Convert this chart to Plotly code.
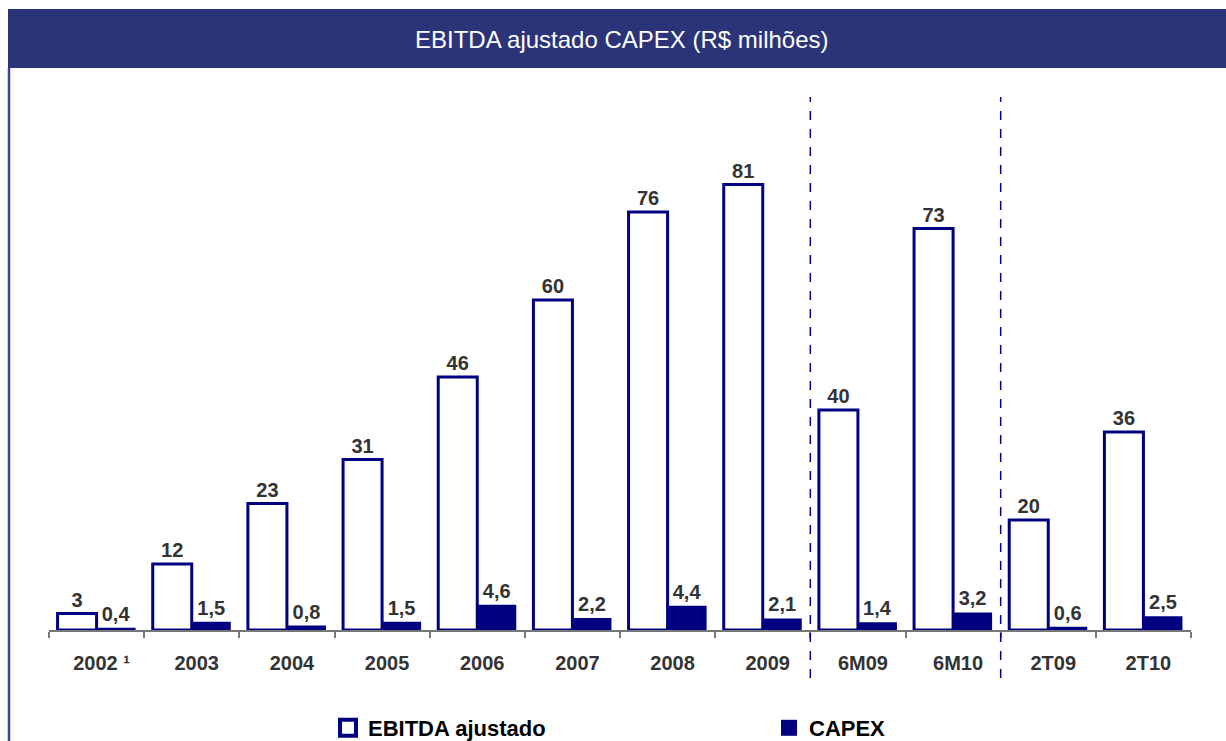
import plotly.graph_objects as go

categories = ["2002 ¹", "2003", "2004", "2005", "2006", "2007", "2008", "2009",
              "6M09", "6M10", "2T09", "2T10"]
ebitda = [3, 12, 23, 31, 46, 60, 76, 81, 40, 73, 20, 36]
capex = [0.4, 1.5, 0.8, 1.5, 4.6, 2.2, 4.4, 2.1, 1.4, 3.2, 0.6, 2.5]
separators_after = [7, 9]  # dashed line after these category indexes

NAVY = "#000080"
BANNER = "#2B3479"
FONT = "Arial, Liberation Sans, sans-serif"

W, H = 1226, 741
L, R, T, B = 49, 1191, 80, 630


def px_x(p):
    return (p - L) / (R - L)


def px_y(p):
    return (B - p) / (B - T)


fig = go.Figure()
fig.add_trace(go.Bar(
    x=categories, y=ebitda, name="EBITDA ajustado",
    marker=dict(color="white", line=dict(color=NAVY, width=3)),
    text=[f"{v:d}" for v in ebitda], textposition="outside",
    textfont=dict(family=FONT, size=20, color="#333333", weight="bold"),
    cliponaxis=False, showlegend=False,
))
fig.add_trace(go.Bar(
    x=categories, y=capex, name="CAPEX",
    marker=dict(color=NAVY, line=dict(color=NAVY, width=0)),
    text=[f"{v:.1f}".replace(".", ",") for v in capex], textposition="outside",
    textfont=dict(family=FONT, size=20, color="#333333", weight="bold"),
    cliponaxis=False, showlegend=False,
))
# legend entries
fig.add_trace(go.Scatter(
    x=[None], y=[None], mode="markers", name="EBITDA ajustado",
    marker=dict(symbol="square", size=16, color="white",
                line=dict(color=NAVY, width=4)),
    legend="legend", showlegend=True,
))
fig.add_trace(go.Scatter(
    x=[None], y=[None], mode="markers", name="CAPEX",
    marker=dict(symbol="square", size=16, color=NAVY,
                line=dict(color=NAVY, width=0)),
    legend="legend2", showlegend=True,
))

shapes = [
    # banner
    dict(type="rect", xref="paper", yref="paper",
         x0=px_x(8), x1=px_x(1240), y0=px_y(68), y1=px_y(9),
         fillcolor=BANNER, line=dict(width=0), layer="below"),
    # left border line
    dict(type="line", xref="paper", yref="paper",
         x0=px_x(9), x1=px_x(9), y0=px_y(68), y1=px_y(745),
         line=dict(color="#3A4590", width=2.5)),
]
for i in separators_after:
    shapes.append(dict(type="line", xref="x", yref="paper",
                       x0=i + 0.5, x1=i + 0.5, y0=px_y(678), y1=px_y(97),
                       line=dict(color=NAVY, width=1.5, dash="dash")))

legend_font = dict(family=FONT, size=22, color="black", weight="bold")

fig.update_layout(
    width=W, height=H,
    margin=dict(l=L, r=W - R, t=T, b=H - B, autoexpand=False),
    paper_bgcolor="white", plot_bgcolor="white",
    barmode="group", bargap=0.18, bargroupgap=0,
    showlegend=True,
    font=dict(family=FONT, color="#333333"),
    xaxis=dict(type="category", range=[-0.5, 11.5], showline=True,
               linecolor="#777777", linewidth=1.5, ticks="outside",
               tickson="boundaries", ticklen=6, tickcolor="#777777",
               tickwidth=1.5, showgrid=False, ticklabelstandoff=14,
               ticklabelshift=5,
               tickfont=dict(family=FONT, size=20, color="#333333", weight="bold")),
    yaxis=dict(range=[0, 100], visible=False, showgrid=False, zeroline=False),
    shapes=shapes,
    annotations=[dict(text="EBITDA ajustado CAPEX (R$ milhões)", xref="paper",
                      yref="paper", x=px_x(622), y=px_y(39), showarrow=False,
                      xanchor="center", yanchor="middle",
                      font=dict(family=FONT, size=24, color="white"))],
    legend=dict(x=px_x(328), y=px_y(728), xanchor="left", yanchor="middle",
                orientation="h", font=legend_font, bgcolor="rgba(0,0,0,0)"),
    legend2=dict(x=px_x(769), y=px_y(728), xanchor="left", yanchor="middle",
                 orientation="h", font=legend_font, bgcolor="rgba(0,0,0,0)"),
)

fig.write_html("out.html", post_script="document.body.style.margin='0px';",
               config={"displayModeBar": False})
